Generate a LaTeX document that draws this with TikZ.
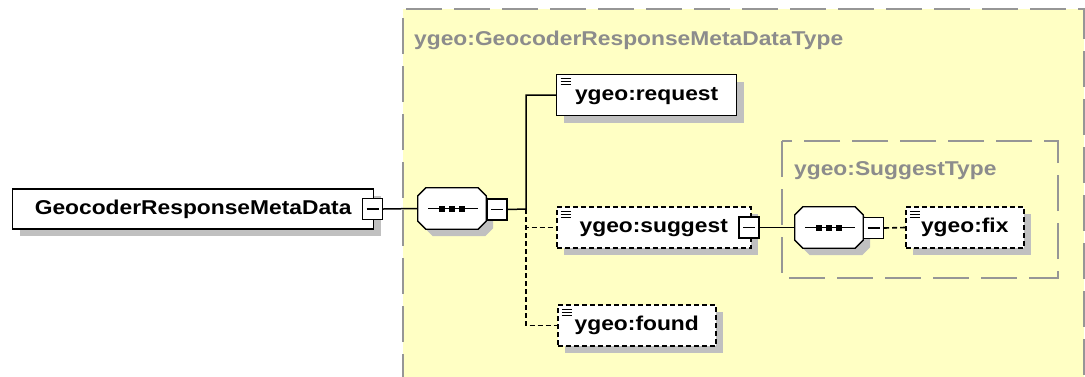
\documentclass[tikz,border=0pt]{standalone}
\usepackage{fontspec}
\newfontfamily\xsdfont[FakeStretch=1.14]{Liberation Sans}
\definecolor{typefill}{RGB}{255, 255, 196}
\definecolor{typeline}{RGB}{150, 150, 150}
\definecolor{typetext}{RGB}{140, 140, 140}
\definecolor{shadowgrey}{RGB}{192, 192, 192}
\usetikzlibrary{shadows}
\newcommand\octagonpath[1]{([xshift=8pt]#1.north west)
    -- ([xshift=-8pt]#1.north east) -- ([yshift=-8pt]#1.north east)
    -- ([yshift=8pt]#1.south east) -- ([xshift=-8pt]#1.south east)
    -- ([xshift=8pt]#1.south west) -- ([yshift=8pt]#1.south west)
    -- ([yshift=-8pt]#1.north west) -- cycle}
\tikzset{
    every node/.style={font=\xsdfont\bfseries\fontsize{20}{24}\selectfont},
    boxshadow/.style={drop shadow={shadow xshift=7pt, shadow yshift=-7pt,
        fill=shadowgrey, opacity=1}},
    typebox/.style={fill=typefill, draw=typeline, line width=1.6pt,
        dash pattern=on 36pt off 12pt},
    typelabel/.style={anchor=base west, inner sep=0pt, text=typetext},
    plainelem/.style={draw, fill=white, line width=1.3pt, inner sep=0pt,
        minimum height=41pt, text height=14pt, text depth=4pt, boxshadow},
    elem/.style={plainelem, path picture={
        \foreach \k in {4, 7, 10}
            \draw[line width=1pt, solid] ([xshift=4pt, yshift=-\k pt]path picture
                bounding box.north west) -- ++(10, 0);
    }},
    optelem/.style={elem, line width=1.5pt, dash pattern=on 5pt off 3pt},
    collapse/.style={draw, fill=white, line width=1.3pt, inner sep=0pt,
        minimum width=20pt, minimum height=21pt, path picture={
        \draw[line width=1.3pt] ([xshift=4pt]path picture bounding box.west)
            -- ([xshift=-4pt]path picture bounding box.east);
    }},
    sequence/.style={rectangle, inner sep=0pt, minimum width=68pt,
        minimum height=41pt},
    link/.style={line width=1.5pt},
    optlink/.style={link, line width=1.6pt, dash pattern=on 5pt off 3pt},
}

\begin{document}
\begin{tikzpicture}[x=1pt, y=-1pt]
        \useasboundingbox (0, 0) rectangle (1085, 376);
        \clip (0, 0) rectangle (1085, 376);

        % complex types
        \filldraw[typebox] (403, 390) -- (403, 9) -- (1084, 9) -- (1084, 390);
        \node[typelabel] (outerlabel) at (414, 45)
            {ygeo:GeocoderResponseMetaDataType};
        \filldraw[typebox] (782, 141) rectangle (1058, 278);
        \node[typelabel] (innerlabel) at (794, 175) {ygeo:SuggestType};

        \node[sequence] (seq) at (452, 208.5) {};
        \node[sequence] (subseq) at (829, 227.5) {};
        \foreach \s in {seq, subseq} {
            \fill[shadowgrey, transform canvas={xshift=7pt, yshift=-7pt}]
                \octagonpath{\s};
            \filldraw[fill=white, line width=1.3pt] \octagonpath{\s};
            \draw[link] ([xshift=-24pt]\s.center) -- ([xshift=26pt]\s.center);
            \foreach \dx in {-10, 0, 10}
                \fill ([xshift=\dx pt]\s.center) +(-3, -3) rectangle +(3, 3);
        }

        \node[plainelem, minimum width=361pt, minimum height=40pt, anchor=west]
            (root) at (12, 209) {GeocoderResponseMetaData};
        \node[collapse] (rootminus) at (372.5, 209) {};
        \node[collapse] (seqminus) at (497, 209.5) {};
        \coordinate (fork) at (526, 209);

        \node[elem, minimum width=180pt, anchor=west] (request) at (556, 95)
            {ygeo:request};
        \node[optelem, minimum width=194pt, anchor=west] (suggest)
            at (556, 227.5) {ygeo:suggest};
        \node[collapse] (suggestminus) at (749, 227.5) {};
        \node[optelem, minimum width=158pt, anchor=west] (found)
            at (557, 325.5) {ygeo:found};

        \node[collapse] (subseqminus) at (873.5, 228) {};
        \node[optelem, minimum width=118pt, anchor=west] (fix) at (905, 227.5)
            {ygeo:fix};

        \draw[link] (rootminus.east) -- (seq.west);
        \draw[link] (seqminus.east) -- (fork) |- (request.west);
        \draw[optlink] (fork) |- (suggest.west);
        \draw[optlink] (fork) |- (found.west);
        \draw[link] (suggestminus.east) -- (subseq.west);
        \draw[optlink] (subseqminus.east) -- (fix.west);
    \end{tikzpicture}
\end{document}
